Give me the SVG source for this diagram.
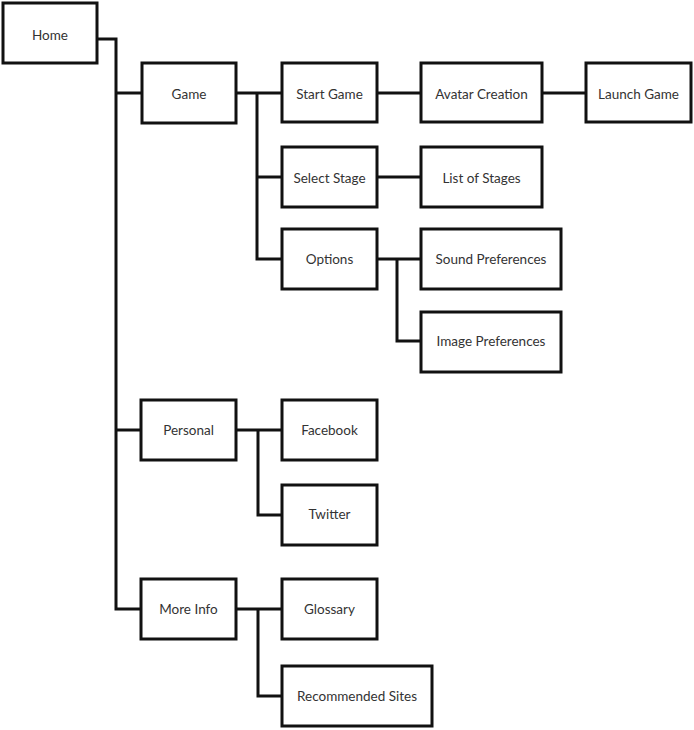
<svg xmlns="http://www.w3.org/2000/svg" width="694" height="730" viewBox="0 0 694 730">
<style>
.box{fill:#fff;stroke:#111;stroke-width:3}
.lbl{font-family:Lato,"Liberation Sans",sans-serif;font-size:13.5px;fill:#333;text-anchor:middle;dominant-baseline:central}
.con{fill:none;stroke:#111;stroke-width:3}
</style>
<rect width="694" height="730" fill="#fff"/>
<g id="connectors">
<path class="con" d="M97 39 H116 V609 H141"/>
<path class="con" d="M116 93 H142"/>
<path class="con" d="M116 430 H141"/>
<path class="con" d="M236 93 H282"/>
<path class="con" d="M257 93 V259 H282"/>
<path class="con" d="M257 177 H282"/>
<path class="con" d="M377 93 H421"/>
<path class="con" d="M542 93 H586"/>
<path class="con" d="M377 177 H421"/>
<path class="con" d="M377 259 H421"/>
<path class="con" d="M397 259 V341 H421"/>
<path class="con" d="M236 430 H282"/>
<path class="con" d="M258 430 V515 H282"/>
<path class="con" d="M236 609 H282"/>
<path class="con" d="M258 609 V696 H282"/>
</g>
<g id="home"><rect class="box" x="3" y="3" width="94" height="60"/><text class="lbl" x="50" y="35">Home</text></g>
<g id="game"><rect class="box" x="142" y="63" width="94" height="60"/><text class="lbl" x="189" y="94">Game</text></g>
<g id="start-game"><rect class="box" x="282" y="63" width="95" height="59"/><text class="lbl" x="329.5" y="94">Start Game</text></g>
<g id="avatar-creation"><rect class="box" x="421" y="63" width="121" height="59"/><text class="lbl" x="481.5" y="94">Avatar Creation</text></g>
<g id="launch-game"><rect class="box" x="586" y="63" width="105" height="59"/><text class="lbl" x="638.5" y="94">Launch Game</text></g>
<g id="select-stage"><rect class="box" x="282" y="147" width="95" height="60"/><text class="lbl" x="329.5" y="178">Select Stage</text></g>
<g id="list-of-stages"><rect class="box" x="421" y="147" width="121" height="60"/><text class="lbl" x="481.5" y="178">List of Stages</text></g>
<g id="options"><rect class="box" x="282" y="229" width="95" height="60"/><text class="lbl" x="329.5" y="259">Options</text></g>
<g id="sound-preferences"><rect class="box" x="421" y="229" width="140" height="60"/><text class="lbl" x="491" y="259">Sound Preferences</text></g>
<g id="image-preferences"><rect class="box" x="421" y="312" width="140" height="60"/><text class="lbl" x="491" y="341">Image Preferences</text></g>
<g id="personal"><rect class="box" x="141" y="400" width="95" height="60"/><text class="lbl" x="188.5" y="430">Personal</text></g>
<g id="facebook"><rect class="box" x="282" y="400" width="95" height="60"/><text class="lbl" x="329.5" y="430">Facebook</text></g>
<g id="twitter"><rect class="box" x="282" y="485" width="95" height="60"/><text class="lbl" x="329.5" y="514">Twitter</text></g>
<g id="more-info"><rect class="box" x="141" y="579" width="95" height="60"/><text class="lbl" x="188.5" y="609">More Info</text></g>
<g id="glossary"><rect class="box" x="282" y="579" width="95" height="60"/><text class="lbl" x="329.5" y="609">Glossary</text></g>
<g id="recommended-sites"><rect class="box" x="282" y="666" width="150" height="60"/><text class="lbl" x="357" y="696">Recommended Sites</text></g>
</svg>
